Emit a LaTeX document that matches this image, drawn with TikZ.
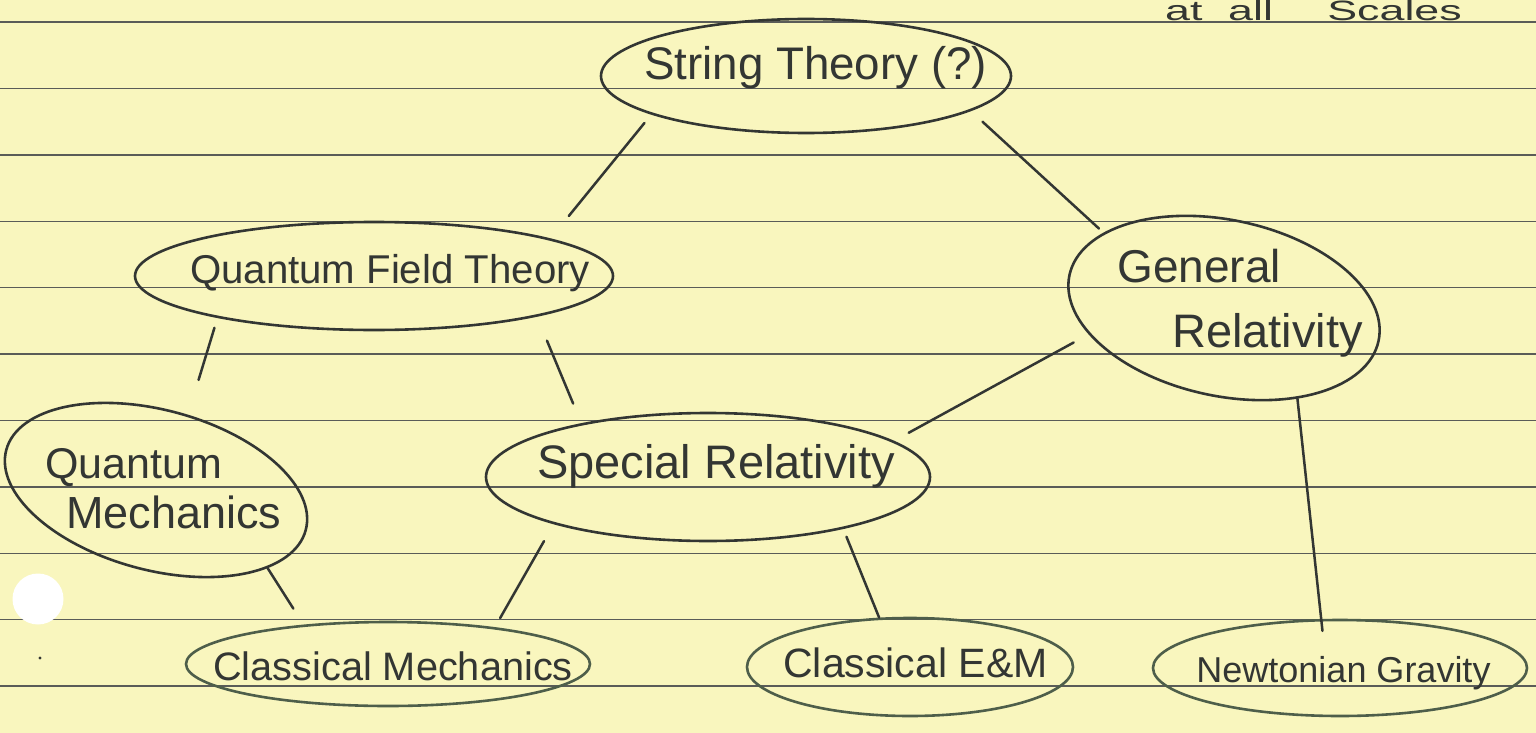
\documentclass[tikz,border=0pt]{standalone}
\usepackage{fontspec}
\setmainfont{Liberation Sans}
\usetikzlibrary{shapes.geometric}
\definecolor{paper}{HTML}{F9F6BE}
\definecolor{rulec}{HTML}{5A5C58}
\definecolor{ink}{HTML}{333633}
\definecolor{inkg}{HTML}{4E5E4A}
\begin{document}
\begin{tikzpicture}[x=1pt,y=-1pt,
  bub/.style={ellipse, draw=ink, line width=2.6pt, inner sep=0pt},
  bubg/.style={bub, draw=inkg},
  lbl/.style={text=ink, anchor=base, inner sep=0pt},
  link/.style={draw=ink, line width=2.5pt, line cap=round}]
\useasboundingbox (0,0) rectangle (1536,733);
\fill[paper] (0,0) rectangle (1536,733);
\foreach \k in {0,...,10} \draw[rulec, line width=1.4pt] (0,{22+66.4*\k}) -- (1536,{22+66.4*\k});
\fill[white] (38,599) circle[radius=25.5];
\fill[ink] (40,658) circle[radius=1.6];

% bubbles
\node[bub, minimum width=410, minimum height=114] (st) at (806,76) {};
\node[bub, minimum width=478, minimum height=108] (qft) at (374,276) {};
\node[bub, minimum width=316, minimum height=176, rotate=-12] (gr) at (1224,308) {};
\node[bub, minimum width=310, minimum height=160, rotate=-15] (qm) at (156,490) {};
\node[bub, minimum width=444, minimum height=128] (sr) at (708,477) {};
\node[bubg, minimum width=404, minimum height=84] (cm) at (388,664) {};
\node[bubg, minimum width=326, minimum height=98] (cem) at (910,667) {};
\node[bubg, minimum width=374, minimum height=96] (ng) at (1340,668) {};

% texts
\node[lbl, font=\fontsize{45.7}{50}\selectfont] (tst) at (815.5,80) {String Theory (?)};
\node[lbl, font=\fontsize{40.2}{48}\selectfont] (tqft) at (390,283) {Quantum Field Theory};
\node[lbl, anchor=base west, font=\fontsize{46}{50}\selectfont] (tgr1) at (1117,282) {General};
\node[lbl, anchor=base west, font=\fontsize{47}{50}\selectfont] (tgr2) at (1172,347) {Relativity};
\node[lbl, anchor=base west, font=\fontsize{43}{50}\selectfont] (tqm1) at (45,478) {Quantum};
\node[lbl, anchor=base west, font=\fontsize{45}{50}\selectfont] (tqm2) at (66,528) {Mechanics};
\node[lbl, font=\fontsize{47}{50}\selectfont] (tsr) at (716,478) {Special Relativity};
\node[lbl, font=\fontsize{39.7}{48}\selectfont] (tcm) at (393,680) {Classical Mechanics};
\node[lbl, font=\fontsize{41}{48}\selectfont] (tcem) at (915.5,677) {Classical E\&M};
\node[lbl, font=\fontsize{36}{44}\selectfont] (tng) at (1343.5,682) {Newtonian Gravity};
\node[lbl, anchor=base west, font=\fontsize{28}{34}\selectfont] (tscales) at (1165,21) {\scalebox{1.6}[1]{at\hspace{16pt}all\hspace{34pt}Scales}};

% connectors
\draw[link, shorten <=10.8pt, shorten >=29pt] (st.194.5) -- (qft.12);
\draw[link, shorten <=15.7pt, shorten >=6pt] (st.-12.5) -- (gr.160.4);
\draw[link, shorten <=10.3pt, shorten >=36.3pt] (qft.-165.1) -- (qm.82.7);
\draw[link, shorten <=26pt, shorten >=21.3pt] (qft.-14) -- (sr.157.7);
\draw[link, shorten <=17pt, shorten >=16.8pt] (gr.203.5) -- (sr.11.2);
\draw[link, shorten <=0pt, shorten >=19pt] (qm.-20.1) -- (cm.155.1);
\draw[link, shorten <=19.5pt, shorten >=10.4pt] (sr.-163.2) -- (cm.19.2);
\draw[link, shorten <=8.4pt, shorten >=0pt] (sr.-21.1) -- (cem.122.9);
\draw[link, shorten <=0pt, shorten >=-12pt] (gr.-39.6) -- (ng.111);
\end{tikzpicture}
\end{document}
